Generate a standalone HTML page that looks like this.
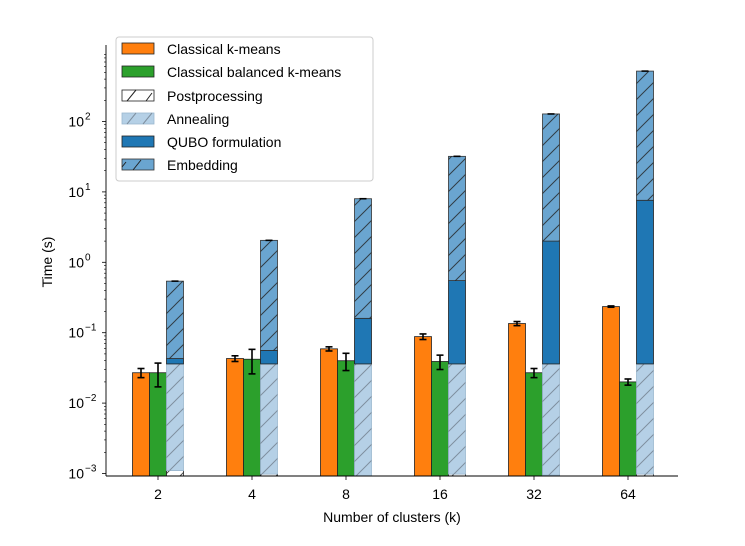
<!DOCTYPE html>
<html><head><meta charset="utf-8"><style>
body{margin:0;background:#fff;}
svg{font-family:"Liberation Sans",sans-serif;}
</style></head><body>
<svg id="chart" width="745" height="541" viewBox="0 0 745 541">
<defs>
<pattern id="hatchDark" patternUnits="userSpaceOnUse" width="16" height="16"><path d="M-4,20 L20,-4 M-4,4 L4,-4 M12,20 L20,12" stroke="#222" stroke-width="1" opacity="0.8"/></pattern>
<pattern id="hatchGrey" patternUnits="userSpaceOnUse" width="16" height="16"><path d="M-4,20 L20,-4 M-4,4 L4,-4 M12,20 L20,12" stroke="#7f8f9f" stroke-width="1"/></pattern>
</defs>
<g id="plot"></g>
</svg>
<script>
const categories=["2","4","8","16","32","64"];
const classical=[0.027,0.043,0.059,0.088,0.135,0.235];
const classicalErr=[0.004,0.004,0.004,0.008,0.009,0.005];
const balanced=[0.027,0.042,0.040,0.039,0.027,0.020];
const balancedErr=[0.010,0.016,0.011,0.009,0.004,0.002];
const postprocessing=[0.0011,0.00098,0.00092,0.00098,0.00095,0.00098];
const annealTop=[0.036,0.036,0.036,0.036,0.036,0.036];
const quboTop=[0.043,0.056,0.16,0.55,2.0,7.6];
const embedTop=[0.54,2.05,8.0,32,128,520];
const yTicks=[-3,-2,-1,0,1,2];

const NS="http://www.w3.org/2000/svg";
const g=document.getElementById('plot');
function y(v){return 473.5-(Math.log10(v)+3)*70.4;}
function x(i){return 158+i*94;}
const base=476;
function el(t,a,p){const e=document.createElementNS(NS,t);for(const k in a)e.setAttribute(k,a[k]);(p||g).appendChild(e);return e;}
const BW=17;
function bar(x0,top,bot,fill,name,stroke){
  const r=el('rect',{x:x0,y:Math.min(y(top),base),width:BW,height:Math.max(0,Math.min(bot,base)-Math.min(y(top),base)),fill:fill,stroke:stroke||'#222','stroke-width':0.8});
  
  
  return r;
}
function errbar(cx,v,e,name){
  const gg=el('g',{});
  
  
  const t=y(v+e),b=y(Math.max(v-e,1e-4));
  el('line',{x1:cx,x2:cx,y1:t,y2:b,stroke:'#000','stroke-width':1.6},gg);
  el('line',{x1:cx-3.5,x2:cx+3.5,y1:t,y2:t,stroke:'#000','stroke-width':1.6},gg);
  el('line',{x1:cx-3.5,x2:cx+3.5,y1:b,y2:b,stroke:'#000','stroke-width':1.6},gg);
}
categories.forEach((c,i)=>{
  const cx=x(i);
  bar(cx-BW*1.5,classical[i],base,'#ff7f0e','bar-classical-'+c);
  bar(cx-BW/2,balanced[i],base,'#2ca02c','bar-balanced-'+c);
  const qx=cx+BW/2;
  bar(qx,postprocessing[i],base,'#fff','bar-postprocessing-'+c);
  bar(qx,postprocessing[i],base,'url(#hatchDark)','bar-postprocessing-hatch-'+c,'none');
  bar(qx,annealTop[i],y(postprocessing[i]),'#b5d0e6','bar-annealing-'+c,'#9bb8cf');
  bar(qx,annealTop[i],y(postprocessing[i]),'url(#hatchGrey)','bar-annealing-hatch-'+c,'none');
  bar(qx,quboTop[i],y(annealTop[i]),'#1f77b4','bar-qubo-'+c);
  bar(qx,embedTop[i],y(quboTop[i]),'#6aa5d0','bar-embedding-'+c,'#333');
  bar(qx,embedTop[i],y(quboTop[i]),'url(#hatchDark)','bar-embedding-hatch-'+c,'none');
  el('line',{x1:qx+5,x2:qx+12,y1:y(embedTop[i]),y2:y(embedTop[i]),stroke:'#000','stroke-width':1.6});
  errbar(cx-BW,classical[i],classicalErr[i],'errorbar-classical-'+c);
  errbar(cx,balanced[i],balancedErr[i],'errorbar-balanced-'+c);
  const tk=el('line',{x1:cx,x2:cx,y1:base,y2:base+4,stroke:'#000','stroke-width':0.8});
  const tl=el('text',{x:cx,y:base+23,'text-anchor':'middle','font-size':14,fill:'#000'});
  tl.textContent=c;
  
  
});
// axes
el('line',{x1:106,x2:106,y1:45,y2:476,stroke:'#000','stroke-width':0.9});
el('line',{x1:106,x2:678,y1:476,y2:476,stroke:'#000','stroke-width':0.9});
yTicks.forEach(p=>{
  const yy=y(Math.pow(10,p));
  el('line',{x1:102,x2:106,y1:yy,y2:yy,stroke:'#000','stroke-width':0.8});
  const t=el('text',{x:84,y:yy+5,'text-anchor':'end','font-size':14});
  
  
  t.textContent='10';
  const s=el('text',{x:85,y:yy-2,'font-size':10});
  s.textContent=String(p).replace('-','\u2212');
  for(let m=2;m<10;m++){const v=Math.pow(10,p)*m;if(p===2&&y(v)<45)break;if(p<2||y(v)>=45){const ym=y(v);el('line',{x1:104,x2:106,y1:ym,y2:ym,stroke:'#000','stroke-width':0.6});}}
});
</script>
<svg style="position:absolute;left:0;top:0" width="745" height="541">
<text x="392" y="522" text-anchor="middle" font-size="14" font-family="Liberation Sans, sans-serif">Number of clusters (k)</text>
<text x="52" y="262" text-anchor="middle" font-size="14" font-family="Liberation Sans, sans-serif" transform="rotate(-90 52 262)">Time (s)</text>
<g font-family="Liberation Sans, sans-serif" font-size="14">
<rect x="116" y="37" width="257" height="144" rx="3" fill="#fff" fill-opacity="0.85" stroke="#ccc"/>
<g><rect x="122" y="43" width="32" height="11" fill="#ff7f0e" stroke="#222" stroke-width="0.8"/><text x="167" y="54">Classical k-means</text></g>
<g><rect x="122" y="66" width="32" height="11" fill="#2ca02c" stroke="#222" stroke-width="0.8"/><text x="167" y="77">Classical balanced k-means</text></g>
<g><rect x="122" y="90" width="32" height="11" fill="#fff" stroke="#222" stroke-width="0.8"/><path d="M127,101 L136,90 M146,101 L152,93" stroke="#222"/><text x="167" y="101">Postprocessing</text></g>
<g><rect x="122" y="113" width="32" height="11" fill="#b5d0e6" stroke="#9bb8cf" stroke-width="0.8"/><path d="M127,124 L136,113 M143,124 L152,113" stroke="#7f8f9f"/><text x="167" y="124">Annealing</text></g>
<g><rect x="122" y="136" width="32" height="11" fill="#1f77b4" stroke="#222" stroke-width="0.8"/><text x="167" y="147">QUBO formulation</text></g>
<g><rect x="122" y="159" width="32" height="11" fill="#6aa5d0" stroke="#333" stroke-width="0.8"/><path d="M122,167 L126,162 M133,170 L141,160" stroke="#222"/><text x="167" y="170">Embedding</text></g>
</g>
</svg>
</body></html>
